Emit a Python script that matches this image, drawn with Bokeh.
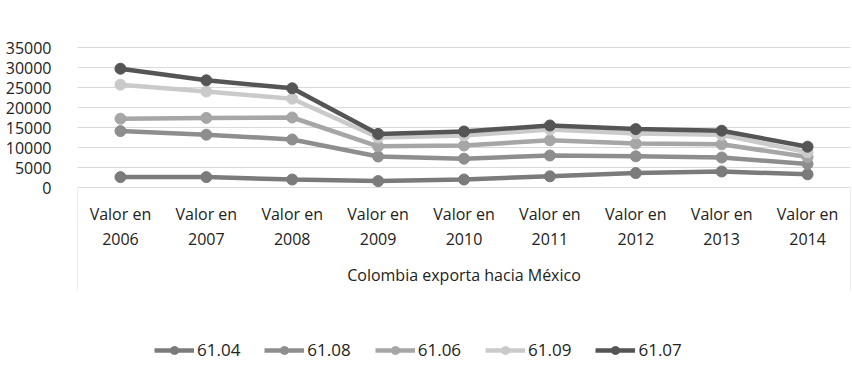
from bokeh.plotting import figure
from bokeh.models import Range1d, FixedTicker, Legend, LegendItem, ColumnDataSource
from bokeh.core.properties import value
from bokeh.embed import file_html
from bokeh.resources import INLINE

# Export values of Colombia to Mexico by tariff heading
years = ["2006", "2007", "2008", "2009", "2010", "2011", "2012", "2013", "2014"]
category_prefix = "Valor en"
group_title = "Colombia exporta hacia México"
y_ticks = [0, 5000, 10000, 15000, 20000, 25000, 30000, 35000]

s_6104 = [2600, 2600, 2000, 1600, 2000, 2800, 3600, 4000, 3300]
s_6108 = [14100, 13200, 12000, 7750, 7200, 8000, 7800, 7500, 5900]
s_6106 = [17200, 17400, 17500, 10300, 10500, 11800, 11000, 10800, 7600]
s_6109 = [25700, 24000, 22200, 12500, 13000, 14500, 13500, 13200, 8800]
s_6107 = [29700, 26800, 24800, 13400, 14000, 15500, 14600, 14200, 10200]

series = [
    ("61.04", s_6104, "#7b7b7b"),
    ("61.08", s_6108, "#8e8e8e"),
    ("61.06", s_6106, "#a6a6a6"),
    ("61.09", s_6109, "#cacaca"),
    ("61.07", s_6107, "#555555"),
]

FONT = "Open Sans"
TEXT_COLOR = "#222222"
GRID_COLOR = "#d9d9d9"

xs = list(range(len(years)))

p = figure(width=852, height=371, output_backend="svg", toolbar_location=None,
           x_range=Range1d(-0.5, len(years) - 0.5),
           y_range=Range1d(-46000, 36750),
           min_border_left=77, min_border_right=2,
           min_border_top=40, min_border_bottom=0)
p.outline_line_color = None
p.background_fill_color = "white"
p.border_fill_color = "white"

# value axis
p.yaxis.ticker = FixedTicker(ticks=y_ticks)
p.yaxis.axis_line_color = None
p.yaxis.major_tick_line_color = None
p.yaxis.minor_tick_line_color = None
p.yaxis.major_label_standoff = 20
p.yaxis.major_label_text_font = FONT
p.yaxis.major_label_text_font_size = "16px"
p.yaxis.major_label_text_color = TEXT_COLOR
p.ygrid.grid_line_color = GRID_COLOR
p.ygrid.ticker = FixedTicker(ticks=y_ticks)
p.xaxis.visible = False
p.xgrid.grid_line_color = None

# category box edges below the baseline
p.segment(x0=[-0.5, len(years) - 0.5], y0=[0, 0],
          x1=[-0.5, len(years) - 0.5], y1=[-25750, -25750],
          line_color=GRID_COLOR, line_width=1)

# category labels
lab = ColumnDataSource(dict(x=xs, t1=[category_prefix] * len(years), t2=years,
                            y1=[-6500] * len(years), y2=[-12750] * len(years)))
p.text(x="x", y="y1", text="t1", source=lab, text_font=value(FONT),
       text_font_size="16px", text_color=TEXT_COLOR,
       text_align="center", text_baseline="middle")
p.text(x="x", y="y2", text="t2", source=lab, text_font=value(FONT),
       text_font_size="16px", text_color=TEXT_COLOR,
       text_align="center", text_baseline="middle")
p.text(x=[(len(years) - 1) / 2], y=[-21750], text=[group_title], text_font=value(FONT),
       text_font_size="16px", text_color=TEXT_COLOR,
       text_align="center", text_baseline="middle")

items = []
for name, vals, color in series:
    src = ColumnDataSource(dict(x=xs, y=vals))
    r_line = p.line("x", "y", source=src, line_color=color, line_width=4.5)
    r_pts = p.scatter("x", "y", source=src, size=11, fill_color=color,
                      line_color=color, marker="circle")
    items.append(LegendItem(label=name, renderers=[r_line, r_pts]))

legend = Legend(items=items, orientation="horizontal", location=(77, 10))
legend.label_text_font = FONT
legend.label_text_font_size = "17px"
legend.label_text_color = TEXT_COLOR
legend.glyph_width = 40
legend.glyph_height = 20
legend.label_standoff = 3
legend.spacing = 24
legend.padding = 13
legend.margin = 0
legend.border_line_color = None
legend.background_fill_alpha = 0
p.add_layout(legend)

open("out.html", "w").write(file_html(p, INLINE))
